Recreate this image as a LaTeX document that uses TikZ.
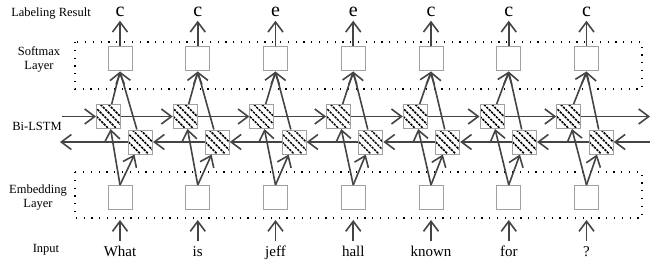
\documentclass[tikz,border=0pt]{standalone}
\usepackage{fontspec}
\setmainfont{Liberation Serif}
\usetikzlibrary{arrows.meta, positioning, calc}
\definecolor{cline}{RGB}{68,68,68}
\definecolor{cbox}{RGB}{160,160,160}

\begin{document}
\begin{tikzpicture}[
    x=1pt, y=-1pt,
    >={Straight Barb[length=10pt, width=15pt]},
    every node/.style={font=\fontsize{12.5}{14}\selectfont},
    ubox/.style={draw=cbox, line width=1pt, fill=white, minimum size=24pt, inner sep=0pt},
    cell/.style={ubox, path picture={
        \foreach \d in {-12,-4,4,12}
            \draw[black, line width=1.5pt, dash pattern=on 2.4pt off 1pt]
                ($(path picture bounding box.north west)+(\d,0)$) -- ($(path picture bounding box.south east)+(\d,0)$);
    }},
    dotbox/.style={draw=black, line width=1.2pt, dash pattern=on 1.2pt off 6.6pt},
    link/.style={->, cline, line width=1.6pt},
    wordlabel/.style={font=\fontsize{15}{17}\selectfont, text height=11pt},
    taglabel/.style={font=\fontsize{20}{22}\selectfont},
]
    \useasboundingbox (0,0) rectangle (664,270);

    % dotted layer frames
    \draw[dotbox] (75,42) rectangle (642,89);
    \draw[dotbox] (75,172) rectangle (642,218);

    % row labels
    \node (labres) at (51,14) {Labeling Result};
    \node[align=center] (softlab) at (39,59) {Softmax\\Layer};
    \node (bilab) at (37,126) {Bi-LSTM};
    \node[align=center] (emblab) at (38,198) {Embedding\\Layer};
    \node (inlab) at (46,250) {Input};

    % columns
    \foreach \i/\w/\t in {1/What/c, 2/is/c, 3/jeff/e, 4/hall/e, 5/known/c, 6/for/c, 7/?/c} {
        \pgfmathsetmacro{\bx}{120+(\i-1)*77.75}
        \pgfmathsetmacro{\fx}{108.5+(\i-1)*76.7}
        \pgfmathsetmacro{\kx}{140.5+(\i-1)*76.8}
        \node[ubox] (soft\i) at (\bx,59) {};
        \node[ubox] (emb\i) at (\bx,197.5) {};
        \node[cell] (fwd\i) at (\fx,116.5) {};
        \node[cell] (bwd\i) at (\kx,142) {};
        \node[taglabel, anchor=base] (tag\i) at (\bx,17) {\t};
        \node[wordlabel, anchor=base] (word\i) at (\bx,256) {\w};
        \coordinate (in\i) at (\bx,220);

        \draw[link] (word\i.north) -- (in\i);
        \draw[link] (emb\i.north) -- (fwd\i);
        \draw[link] (emb\i.north) -- (bwd\i);
        \draw[link] (fwd\i) -- (soft\i.south);
        \draw[link] (bwd\i) -- (soft\i.south);
        \draw[link] (soft\i.north) -- (tag\i.south);
    }

    % forward chain
    \coordinate (fin) at (62,116.5);
    \coordinate (fout) at (650,116.5);
    \draw[link] (fin) -- (fwd1.west);
    \foreach \i [count=\j from 2] in {1,...,6}
        \draw[link] (fwd\i.east) -- (fwd\j.west);
    \draw[link] (fwd7.east) -- (fout);

    % backward chain
    \coordinate (bin) at (650,142);
    \coordinate (bout) at (60,142);
    \draw[link] (bin) -- (bwd7.east);
    \foreach \i [count=\j from 1] in {2,...,7}
        \draw[link] (bwd\i.west) -- (bwd\j.east);
    \draw[link] (bwd1.west) -- (bout);
\end{tikzpicture}
\end{document}
